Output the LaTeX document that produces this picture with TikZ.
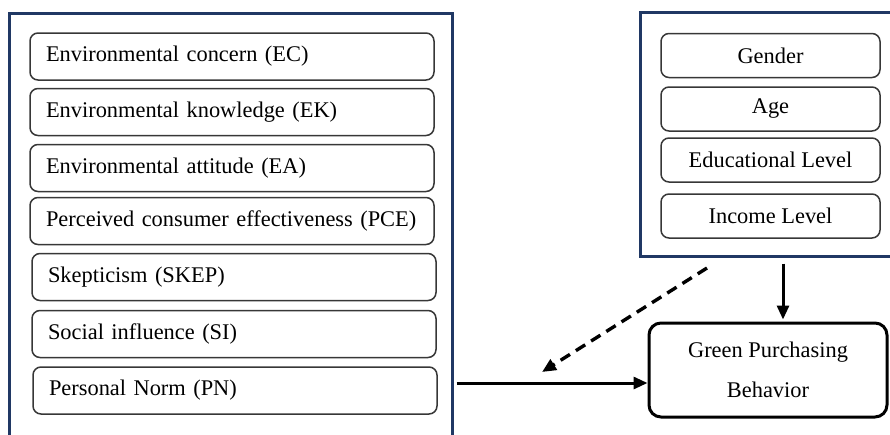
\documentclass[tikz,border=0pt]{standalone}
\usepackage{fontspec}
\setmainfont{Liberation Serif}
\usetikzlibrary{arrows.meta,positioning,calc}

\definecolor{framenavy}{RGB}{32,56,100}
\definecolor{boxgray}{RGB}{55,55,55}

\tikzset{
    framebox/.style={draw=framenavy, line width=3pt, rectangle, inner sep=0pt},
    factorbox/.style={draw=boxgray, line width=1.5pt, rounded corners=8pt,
        minimum width=404pt, minimum height=47pt, text width=372pt,
        inner xsep=16pt, align=left, font=\fontsize{22.4}{26}\selectfont},
    demobox/.style={draw=boxgray, line width=1.5pt, rounded corners=8pt,
        minimum width=219pt, minimum height=44pt, align=center,
        font=\fontsize{22.4}{26}\selectfont},
    outcomebox/.style={draw=black, line width=3pt, rounded corners=12pt,
        minimum width=238pt, minimum height=94pt, align=center,
        font=\fontsize{22.4}{40}\selectfont},
    arrowline/.style={line width=3pt, -{Triangle[length=14pt,width=12pt]}},
}

\begin{document}
\begin{tikzpicture}[x=1pt,y=-1pt]
        \useasboundingbox (0,0) rectangle (890,434);
        \clip (0,0) rectangle (890,434);

        % outer frames (cut off by the page)
        \node[framebox, minimum width=443pt, minimum height=460pt] (factors) at (230.5,243) {};
        \node[framebox, minimum width=270pt, minimum height=244pt] (demo) at (775,134) {};

        % predictors
        \node[factorbox] (ec) at (232,56.5) {Environmental concern (EC)};
        \node[factorbox] (ek) at (232,112) {Environmental knowledge (EK)};
        \node[factorbox] (ea) at (232,168) {Environmental attitude (EA)};
        \node[factorbox] (pce) at (232,221) {Perceived consumer effectiveness (PCE)};
        \node[factorbox] (skep) at (234,277) {Skepticism (SKEP)};
        \node[factorbox] (si) at (234,334) {Social influence (SI)};
        \node[factorbox] (pn) at (235,390.5) {Personal Norm (PN)};

        % demographics
        \node[demobox] (gender) at (770.5,55.5) {Gender};
        \node[demobox] (age) at (770.5,109) {Age};
        \node[demobox] (edu) at (770.5,160) {Educational Level};
        \node[demobox] (income) at (770.5,216) {Income Level};

        % outcome
        \node[outcomebox] (gpb) at (768,370) {Green Purchasing\\Behavior};

        \coordinate (modstart) at (707,268);
        \coordinate (modend) at (542,372);

        \draw[arrowline] ([yshift=-13pt]gpb.west -| factors.east) ++(3,0) -- ([yshift=-13pt]gpb.west);
        \draw[arrowline] ([xshift=15pt]gpb.north |- demo.south) ++(0,6) -- ([xshift=15pt,yshift=2pt]gpb.north);
        \draw[arrowline, line width=3.4pt, dash pattern=on 11pt off 7pt] (modstart) -- (modend);
    \end{tikzpicture}
\end{document}
